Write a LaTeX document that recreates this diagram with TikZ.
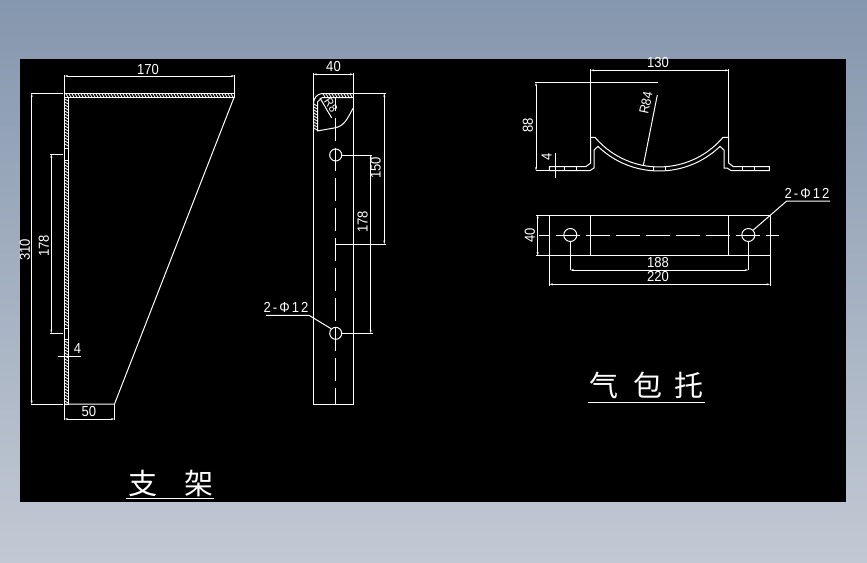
\documentclass[tikz,border=0pt]{standalone}
\usepackage{fontspec}
\setmainfont[FakeStretch=0.9]{Liberation Sans}
\newfontfamily\cjk{Noto Sans CJK SC}
\newfontfamily\notefont[FakeStretch=0.9,LetterSpace=14]{Liberation Sans}
\usetikzlibrary{
    arrows.meta
}
\definecolor{panelTop}{RGB}{133, 151, 174}
\definecolor{panelBottom}{RGB}{194, 201, 212}
\tikzset{
    cad/.style={white, line width=1pt},
    dimline/.style={cad, {Stealth[length=3.5pt,width=2pt]}-{Stealth[length=3.5pt,width=2pt]}},
    hatchline/.style={white, line width=0.8pt},
    centerline/.style={white, line width=1pt, dash pattern=on 23.3pt off 6.7pt},
    dimtext/.style={white, inner sep=0pt, font=\fontsize{14.5}{14.5}\selectfont},
    notetext/.style={white, inner sep=0pt, font=\notefont\fontsize{14.5}{14.5}\selectfont},
    titletext/.style={white, inner sep=0pt, font=\cjk\fontsize{29}{29}\selectfont}
}

\begin{document}
\begin{tikzpicture}[x=1pt, y=-1pt, >=stealth]
        \useasboundingbox (0,0) rectangle (867,562);
        \shade[top color=panelTop, bottom color=panelBottom] (0,0) rectangle (867,562);
        \fill[black] (20,59) rectangle (846,502);

        % Bracket, side view
        \draw[cad] (64.5,93.5) rectangle (234.5,97.5);
        \draw[cad] (64.5,97.5) rectangle (68.5,404);
        \draw[cad] (64.5,148) -- (68.5,148) (64.5,160) -- (68.5,160);
        \draw[cad] (64.5,328) -- (68.5,328) (64.5,339) -- (68.5,339);
        \draw[cad] (234,97.5) -- (114.5,404) -- (64.5,404);
        \foreach \hx in {66,69,...,233}
            \draw[hatchline] (\hx,94) -- ++(2,3);
        \foreach \hy in {99,102,...,146, 162,165,...,326, 341,344,...,402}
            \draw[hatchline] (65,\hy) -- ++(3,2);

        % Bracket, side view dimensions
        \draw[cad] (64.5,75) -- (64.5,93.5) (234.5,75) -- (234.5,93.5);
        \draw[dimline] (64.5,76) -- (234.5,76);
        \node[dimtext] (widthBracket) at (148,70) {170};
        \draw[cad] (30.5,93.5) -- (63,93.5) (30.5,404) -- (63,404);
        \draw[dimline] (31.7,93.5) -- (31.7,404);
        \node[dimtext, rotate=90] (heightBracket) at (25,250) {310};
        \draw[cad] (50,154.3) -- (63,154.3) (50,333) -- (63,333);
        \draw[dimline] (51.3,154.3) -- (51.3,333);
        \node[dimtext, rotate=90] (holesBracket) at (44,246) {178};
        \draw[cad] (58,356.3) -- (81,356.3);
        \node[dimtext] (thickBracket) at (77.5,349) {4};
        \draw[cad] (64.5,404) -- (64.5,420) (114.5,404) -- (114.5,420);
        \draw[dimline] (64.5,419) -- (114.5,419);
        \node[dimtext] (footBracket) at (89,412) {50};

        % Bracket, front view
        \draw[cad] (313.3,73) -- (313.3,404.3) -- (353.3,404.3) -- (353.3,73);
        \draw[dimline] (313.3,74.3) -- (353.3,74.3);
        \node[dimtext] (widthFront) at (333.5,67) {40};
        \draw[cad] (313.5,131) -- (313.5,103) .. controls (314,98) and (317,94) .. (322,93.5) -- (353.3,93.5);
        \draw[cad] (317.5,131) -- (317.5,102) -- (322,97.5) -- (353.3,97.5);
        \foreach \hx in {323,326,...,351}
            \draw[hatchline] (\hx,94) -- ++(2,3);
        \foreach \hy in {104,107,...,128}
            \draw[hatchline] (314,\hy) -- ++(3,2);
        \draw[cad] (317,131) .. controls (328,129) and (335,128) .. (338,127) .. controls (346,124) and (349,115) .. (353.3,108);
        \draw[centerline, dash phase=9.3pt] (335.7,97) -- (335.7,404);
        \draw[cad] (320,98) -- (331.7,118);
        \node[dimtext, rotate=-55, font=\fontsize{12}{12}\selectfont] (radiusFront) at (331,105) {R8};

        % Front view holes
        \node[circle, draw=white, line width=1pt, minimum size=12pt, inner sep=0pt] (holeUpper) at (335.7,155) {};
        \node[circle, draw=white, line width=1pt, minimum size=12pt, inner sep=0pt] (holeLower) at (335.7,333.3) {};
        \coordinate (holesRightUp) at (370.7,155);
        \coordinate (holesRightLow) at (370.7,333.3);
        \draw[cad] (holeUpper.east) -- (372,155);
        \draw[cad] (holeLower.east) -- (372.7,333.3);
        \draw[dimline] (holesRightUp) -- (holesRightLow);
        \node[dimtext, rotate=90] (holesFront) at (362.7,221.7) {178};
        \draw[cad] (353.3,93.3) -- (386,93.3) (335.7,244) -- (386,244);
        \draw[dimline] (384.3,93.3) -- (384.3,244);
        \node[dimtext, rotate=90] (upperFront) at (375.7,168) {150};
        \coordinate (leaderFront) at (309,315.3);
        \draw[cad] (266,315.3) -- (leaderFront) -- (holeLower.north west);
        \node[notetext] (holeNoteFront) at (286,307) {2-Φ12};

        % Saddle, elevation
        \draw[cad] (549.3,166.5) -- (586,166.5) -- (590.7,163) -- (590.7,137.4) -- (595,137.4)
            arc[start angle=139.6, end angle=40.4, radius=84] -- (728.7,137.4) -- (728.7,163) -- (733,166.5) -- (769.3,166.5)
            -- (769.3,170.5) -- (731,170.5) -- (727,168) -- (724,168) -- (724,150) -- (720,146.4)
            arc[start angle=46.1, end angle=133.9, radius=88] -- (594,150) -- (594,168) -- (590,170.5) -- (549.3,170.5) -- cycle;
        \foreach \hx in {564.3,576.7,742.7,754.3}
            \draw[cad] (\hx,166.5) -- (\hx,170.5);
        \draw[cad] (653.3,167) -- (653.3,171) (665,167) -- (665,171);

        % Saddle, elevation dimensions
        \draw[cad] (590.7,69) -- (590.7,137.4) (728.7,69) -- (728.7,137.4);
        \draw[dimline] (590.7,70.3) -- (728.7,70.3);
        \node[dimtext] (widthSaddle) at (658,63) {130};
        \draw[cad] (535,82.7) -- (658,82.7) (536,170.5) -- (549.3,170.5);
        \draw[dimline] (536,82.7) -- (536,170.5);
        \node[dimtext, rotate=90] (heightSaddle) at (528,125) {88};
        \draw[cad] (555.3,153) -- (555.3,177.7);
        \node[dimtext, rotate=90] (thickSaddle) at (546.7,156.7) {4};
        \draw[cad] (643.3,165.7) -- (657.3,95);
        \node[dimtext, rotate=78, font=\fontsize{13.5}{13.5}\selectfont] (radiusSaddle) at (646,103) {R84};

        % Saddle, plan
        \draw[cad] (549.3,215) rectangle (770,255.7);
        \draw[cad] (590.7,215) -- (590.7,255.7) (728.3,215) -- (728.3,255.7);
        \draw[cad] (536,215) -- (549.3,215) (536,255.7) -- (549.3,255.7);
        \draw[dimline] (537.7,215) -- (537.7,255.7);
        \node[dimtext, rotate=90] (widthPlan) at (530,235.5) {40};
        \draw[centerline, dash phase=12.8pt] (539,235) -- (779,235);
        \node[circle, draw=white, line width=1pt, minimum size=13pt, inner sep=0pt] (holeLeft) at (570.3,235) {};
        \node[circle, draw=white, line width=1pt, minimum size=13pt, inner sep=0pt] (holeRight) at (748.3,235) {};
        \coordinate (spanLeft) at (570.3,270);
        \coordinate (spanRight) at (748.3,270);
        \draw[cad] (holeLeft.south) -- (spanLeft) (holeRight.south) -- (spanRight);
        \draw[dimline] (spanLeft) -- (spanRight);
        \node[dimtext] (spanPlan) at (658,263) {188};
        \draw[cad] (549.3,255.7) -- (549.3,285.5) (770,255.7) -- (770,285.5);
        \draw[dimline] (549.3,284.3) -- (770,284.3);
        \node[dimtext] (lengthPlan) at (658,277) {220};
        \coordinate (leaderPlan) at (786.7,201);
        \draw[cad] (holeRight.north east) -- (leaderPlan) -- (830,201);
        \node[notetext] (holeNotePlan) at (807,193) {2-Φ12};

        % Titles
        \node[titletext] (titleBracket) at (170.5,483) {支\hspace{27pt}架};
        \draw[cad] (126,498) -- (214,498);
        \node[titletext] (titleSaddle) at (646,385) {气\hspace{16pt}包\hspace{11pt}托};
        \draw[cad] (587.7,402.3) -- (705,402.3);
    \end{tikzpicture}
\end{document}
